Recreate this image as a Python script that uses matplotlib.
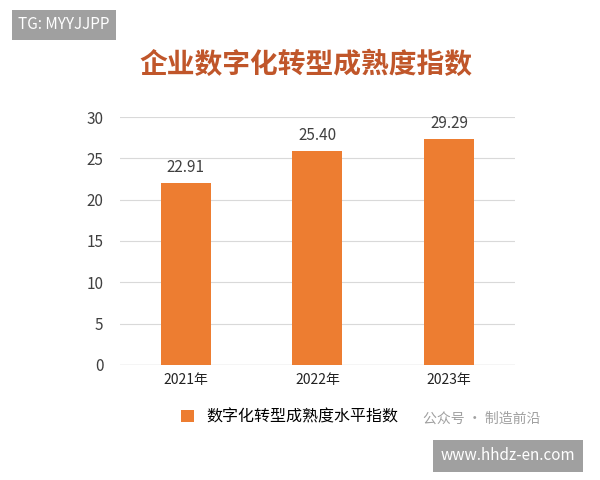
import matplotlib
matplotlib.use("Agg")
import matplotlib.pyplot as plt

plt.rcParams['font.family'] = ['Noto Sans CJK SC', 'DejaVu Sans']

categories = ['2021年', '2022年', '2023年']
bar_heights = [22.0, 25.9, 27.3]
value_labels = ['22.91', '25.40', '29.29']
yticks = [0, 5, 10, 15, 20, 25, 30]

fig = plt.figure(figsize=(6, 4.8), dpi=100)
ax = fig.add_axes([0.2, 0.24, 0.658, 0.516])
bars = ax.bar(range(len(categories)), bar_heights, width=0.38, color='#ed7d31',
              label='数字化转型成熟度水平指数', zorder=3)
for b, t in zip(bars, value_labels):
    ax.text(b.get_x() + b.get_width() / 2, b.get_height() + 0.9, t,
            ha='center', va='bottom', fontsize=11, color='#404040')
ax.set_ylim(0, 30)
ax.set_xlim(-0.5, 2.5)
ax.set_yticks(yticks)
ax.set_xticks(range(len(categories)))
ax.set_xticklabels(categories, fontsize=10, color='#222222')
ax.tick_params(axis='y', labelsize=11, colors='#404040', length=0, pad=12)
ax.tick_params(axis='x', length=0, pad=6)
ax.grid(axis='y', color='#d9d9d9', linewidth=0.8, zorder=0)
for s in ax.spines.values():
    s.set_visible(False)
ax.axhline(0, color='#d9d9d9', linewidth=1, zorder=1)

fig.text(0.51, 0.865, '企业数字化转型成熟度指数', ha='center', va='center',
         fontsize=20, fontweight='bold', color='#c0562a')
ax.legend(loc='upper center', bbox_to_anchor=(0.43, -0.12), frameon=False,
          fontsize=11.5, handlelength=0.8, handleheight=0.8)

fig.text(0.03, 0.948, 'TG: MYYJJPP', fontsize=11, color='white', va='center',
         bbox=dict(boxstyle='square,pad=0.4', fc='#a0a0a0', ec='none'))
fig.text(0.705, 0.128, '公众号 · 制造前沿', fontsize=10, color='#a0a0a0', va='center')
fig.text(0.735, 0.05, 'www.hhdz-en.com', fontsize=11, color='white', va='center',
         bbox=dict(boxstyle='square,pad=0.5', fc='#a0a0a0', ec='none'))

fig.savefig('out.png', dpi=100, facecolor='white')
